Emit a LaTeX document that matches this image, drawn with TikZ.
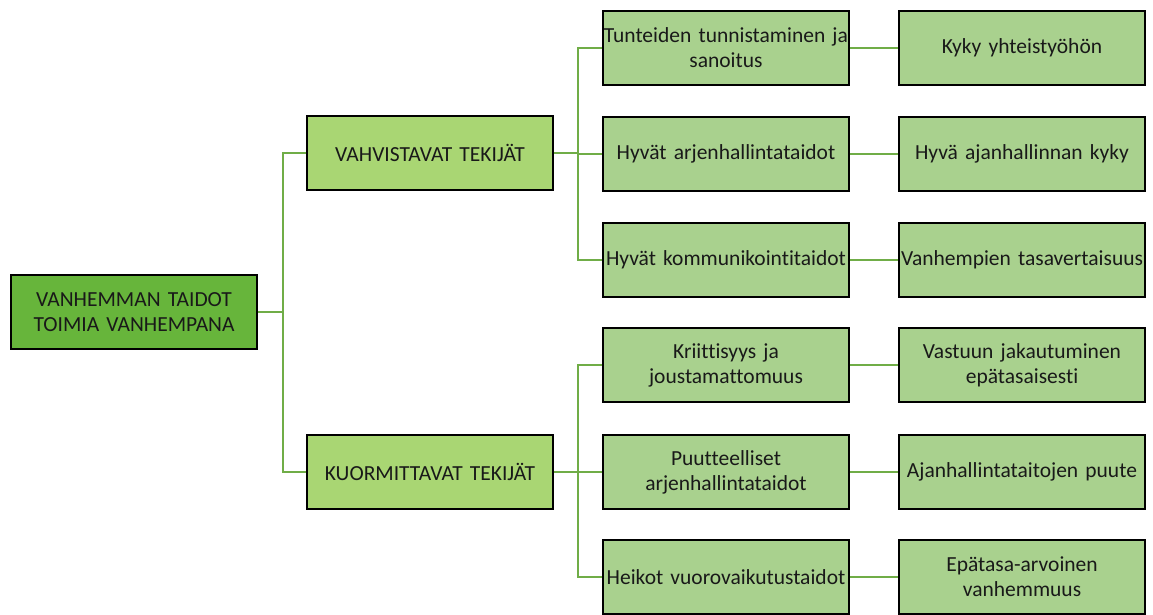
\documentclass[tikz,border=0pt]{standalone}
\usepackage{fontspec}
\setmainfont{Carlito}[Ligatures=NoCommon,WordSpace=0.8]
\definecolor{rootfill}{HTML}{67B53B}
\definecolor{midfill}{HTML}{A9D673}
\definecolor{leaffill}{HTML}{A9D18E}
\definecolor{linkgreen}{HTML}{70AD47}
\begin{document}
\begin{tikzpicture}[x=1pt,y=-1pt,
  box/.style={draw=black,line width=1.6pt,minimum width=246pt,minimum height=74pt,
    text width=246pt,align=center,inner sep=0pt,font=\fontsize{21.5}{25}\selectfont,
    text=black!90},
  rootbox/.style={box,fill=rootfill},
  midbox/.style={box,fill=midfill},
  leafbox/.style={box,fill=leaffill},
  link/.style={draw=linkgreen,line width=1.8pt}]
\useasboundingbox (0,0) rectangle (1153,615);

\node[rootbox] (root) at (134,312) {VANHEMMAN TAIDOT\\TOIMIA VANHEMPANA};

\node[midbox] (pos) at (430,153) {VAHVISTAVAT TEKIJÄT};
\node[midbox] (neg) at (430,472) {KUORMITTAVAT TEKIJÄT};

\node[leafbox] (p1) at (726,48)  {Tunteiden tunnistaminen ja\\sanoitus};
\node[leafbox] (p2) at (726,154) {Hyvät arjenhallintataidot};
\node[leafbox] (p3) at (726,260) {Hyvät kommunikointitaidot};
\node[leafbox] (n1) at (726,365) {Kriittisyys ja\\joustamattomuus};
\node[leafbox] (n2) at (726,472) {Puutteelliset\\arjenhallintataidot};
\node[leafbox] (n3) at (726,577) {Heikot vuorovaikutustaidot};

\node[leafbox] (q1) at (1022,48)  {Kyky yhteistyöhön};
\node[leafbox] (q2) at (1022,154) {Hyvä ajanhallinnan kyky};
\node[leafbox] (q3) at (1022,260) {Vanhempien tasavertaisuus};
\node[leafbox] (m1) at (1022,365) {Vastuun jakautuminen\\epätasaisesti};
\node[leafbox] (m2) at (1022,472) {Ajanhallintataitojen puute};
\node[leafbox] (m3) at (1022,577) {Epätasa-arvoinen\\vanhemmuus};

% elbow connectors: root to the two groups
\coordinate (rj) at (283,0);
\draw[link] (root.east) -- (root.east -| rj);
\draw[link] (pos.west) -| (rj |- root.east) |- (neg.west);

% groups to their items
\coordinate (gj) at (578,0);
\draw[link] (pos.east) -- (pos.east -| gj);
\draw[link] (p1.west) -| (gj |- pos.east) |- (p3.west);
\draw[link] (p2.west) -- (p2.west -| gj);
\draw[link] (neg.east) -- (neg.east -| gj);
\draw[link] (n1.west) -| (gj |- neg.east) |- (n3.west);
\draw[link] (n2.west) -- (n2.west -| gj);

% items to their outcomes
\draw[link] (p1) -- (q1);
\draw[link] (p2) -- (q2);
\draw[link] (p3) -- (q3);
\draw[link] (n1) -- (m1);
\draw[link] (n2) -- (m2);
\draw[link] (n3) -- (m3);
\end{tikzpicture}
\end{document}
